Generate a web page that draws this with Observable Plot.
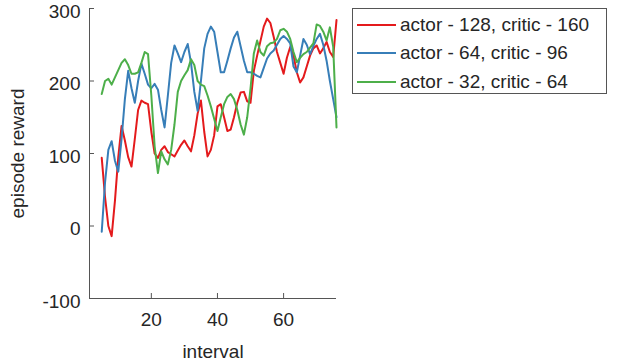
<!DOCTYPE html>
<html>
<head>
<meta charset="utf-8">
<script src="https://cdn.jsdelivr.net/npm/d3@7"></script>
<script src="https://cdn.jsdelivr.net/npm/@observablehq/plot@0.6"></script>
<style>
  body { margin: 0; background: #fff; font-family: "Liberation Sans", Arial, sans-serif; }
  #wrap { position: relative; width: 618px; height: 364px; }
  #legend { position: absolute; left: 352px; top: 8px; width: 255px; height: 86px; border: 1px solid #555; background: #fff; box-sizing: border-box; }
  .item { position: absolute; left: 4px; height: 20px; display: flex; align-items: center; font-size: 19px; color: #262626; white-space: nowrap; }
  .sw { width: 39px; height: 2px; margin-right: 4px; }
</style>
</head>
<body>
<div id="wrap"><div id="chart"></div><div id="legend"></div></div>
<script>
const intervals = [5,6,7,8,9,10,11,12,13,14,15,16,17,18,19,20,21,22,23,24,25,26,27,28,29,30,31,32,33,34,35,36,37,38,39,40,41,42,43,44,45,46,47,48,49,50,51,52,53,54,55,56,57,58,59,60,61,62,63,64,65,66,67,68,69,70,71,72,73,74,75,76];

const seriesNames = ["actor - 128, critic - 160", "actor - 64, critic - 96", "actor - 32, critic - 64"];
const seriesColors = ["#e41a1c", "#377eb8", "#4daf4a"];

const red = [94,40,0,-14,35,95,138,118,95,82,120,160,173,170,168,130,100,94,105,110,102,99,96,104,112,118,110,103,125,155,173,130,96,105,125,165,168,150,131,133,150,170,184,185,172,170,214,235,255,275,286,280,261,240,225,210,232,247,235,212,198,205,220,235,245,249,238,245,254,240,233,284];

const blue = [-8,60,105,117,90,75,120,175,214,190,170,200,224,210,195,190,196,188,160,136,180,225,249,238,226,240,251,225,185,159,200,245,265,275,268,240,212,212,228,245,260,268,248,228,212,212,210,207,205,218,231,238,242,250,258,262,258,252,220,212,235,258,250,237,248,258,265,250,228,200,175,150];

const green = [182,200,203,195,205,215,225,230,222,210,210,212,225,240,237,180,110,73,103,92,85,105,140,185,200,208,215,230,222,200,195,193,180,165,148,131,150,168,178,182,175,160,140,126,150,190,238,256,240,235,248,252,253,258,270,272,268,258,240,226,232,237,240,246,252,278,276,268,256,274,247,136];

const yTicks = [-100, 0, 100, 200, 300];
const xTicks = [20, 40, 60];
const xDomain = [1.3, 76];
const yDomain = [-100, 300];

const values = [red, blue, green];
const data = [];
values.forEach((vals, s) => vals.forEach((v, i) => data.push({x: intervals[i], y: v, series: seriesNames[s]})));

const chart = Plot.plot({
  width: 618,
  height: 364,
  marginLeft: 89,
  marginRight: 282,
  marginTop: 8,
  marginBottom: 66,
  style: {fontFamily: "'Liberation Sans', Arial, sans-serif", fontSize: "19px", color: "#262626", background: "#fff"},
  x: {domain: xDomain},
  y: {domain: yDomain},
  color: {domain: seriesNames, range: seriesColors},
  marks: [
    Plot.line(data, {x: "x", y: "y", z: "series", stroke: "series", strokeWidth: 2}),
    Plot.ruleX([xDomain[0]], {stroke: "#555", strokeWidth: 1}),
    Plot.ruleY([yDomain[0]], {stroke: "#555", strokeWidth: 1}),
    Plot.axisY({ticks: yTicks, tickSize: -5, tickFormat: () => "", stroke: "#555", label: null}),
    Plot.axisY({ticks: yTicks, tickSize: 0, tickPadding: 9, tickFormat: d => String(d),
      label: null, fontSize: 19, dy: 3}),
    Plot.axisY({ticks: [], label: "episode reward", labelArrow: false, labelAnchor: "center", labelOffset: 79, fontSize: 19}),
    Plot.axisX({ticks: xTicks, tickSize: -5, tickPadding: 19, tickFormat: d => String(d), stroke: "#555",
      label: null, fontSize: 19}),
    Plot.axisX({ticks: [], label: "interval", labelArrow: false, labelAnchor: "center", labelOffset: 59, fontSize: 19})
  ]
});
document.getElementById("chart").appendChild(chart);

const legend = document.getElementById("legend");
const tops = [6, 34, 63];
seriesNames.forEach((name, i) => {
  const it = document.createElement("div");
  it.className = "item";
  it.style.top = tops[i] + "px";
  const sw = document.createElement("span");
  sw.className = "sw";
  sw.style.background = seriesColors[i];
  it.appendChild(sw);
  it.appendChild(document.createTextNode(name));
  legend.appendChild(it);
});
</script>
</body>
</html>
